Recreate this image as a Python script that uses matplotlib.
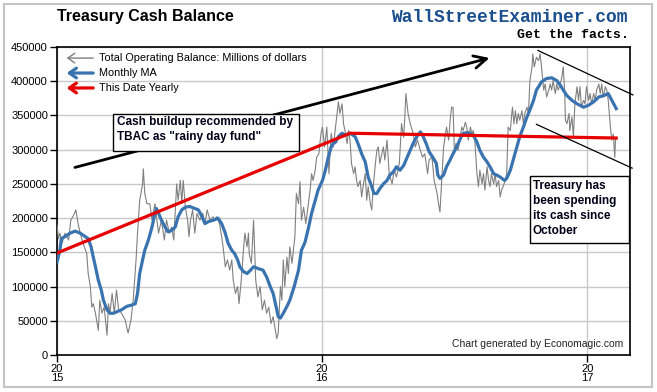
import numpy as np
import pandas as pd
import matplotlib
matplotlib.use('Agg')
import matplotlib.pyplot as plt
from matplotlib.patches import Rectangle

plt.rcParams['font.family'] = ['Liberation Sans', 'DejaVu Sans']

# days since 2015-01-01, values in thousands of millions of dollars
start = pd.Timestamp('2015-01-01')

bal_day = [0, 2, 4, 7, 11, 16, 19, 22, 26, 29, 32, 36, 41, 43, 46, 48, 50, 53, 57, 59,
           62, 65, 69, 71, 73, 76, 79, 82, 85, 89, 94, 98, 102, 105, 109, 111, 114, 118, 119, 121,
           124, 128, 131, 135, 140, 144, 148, 151, 155, 158, 161, 165, 167, 170, 172, 174, 177, 180, 182, 184,
           187, 190, 193, 197, 201, 204, 207, 211, 215, 218, 220, 224, 227, 229, 232, 235, 238, 241, 243, 246,
           249, 251, 254, 257, 259, 262, 264, 265, 268, 271, 274, 277, 280, 283, 286, 289, 292, 295, 298, 303,
           305, 308, 310, 312, 314, 317, 319, 321, 324, 328, 330, 333, 335, 337, 340, 343, 346, 349, 351, 353,
           356, 358, 361, 364, 366, 369, 372, 375, 378, 381, 384, 388, 390, 393, 395, 397, 400, 402, 404, 406,
           409, 411, 413, 415, 418, 420, 422, 425, 427, 429, 432, 434, 436, 439, 441, 443, 445, 448, 450, 452,
           455, 458, 462, 465, 468, 472, 475, 478, 480, 481, 484, 487, 491, 494, 497, 501, 504, 507, 511, 513,
           517, 520, 524, 526, 528, 530, 533, 535, 537, 540, 542, 544, 546, 548, 550, 553, 556, 558, 560, 563,
           565, 567, 570, 572, 574, 576, 579, 581, 583, 586, 588, 590, 593, 595, 597, 599, 602, 604, 606, 609,
           611, 613, 615, 618, 620, 622, 625, 627, 628, 630, 632, 634, 636, 638, 641, 643, 645, 648, 650, 652,
           655, 656, 658, 661, 664, 666, 668, 671, 673, 675, 678, 680, 682, 684, 687, 689, 691, 694, 696, 698,
           700, 701, 703, 706, 707, 710, 712, 714, 717, 719, 721, 723, 726, 728, 730, 733, 735, 737, 740, 742,
           744, 747, 749, 751, 753, 756, 758, 760, 763, 765, 767, 769, 770, 771]
bal_k = [190, 170, 178, 163, 178, 168, 197, 202, 212, 192, 178, 163, 148, 119, 100, 70, 75, 61, 36, 80,
         61, 70, 29, 75, 61, 90, 61, 95, 66, 61, 51, 32, 51, 80, 139, 178, 226, 250, 272, 236,
         221, 221, 197, 221, 178, 197, 168, 197, 178, 187, 168, 250, 226, 255, 221, 255, 216, 197, 173, 197,
         212, 178, 207, 197, 207, 192, 212, 197, 202, 197, 202, 192, 173, 158, 129, 139, 124, 139, 109, 90,
         100, 75, 109, 153, 178, 158, 178, 148, 134, 197, 109, 85, 100, 66, 80, 61, 70, 46, 56, 24,
         32, 100, 80, 139, 100, 143, 119, 158, 134, 173, 236, 221, 253, 197, 216, 192, 216, 241, 265, 255,
         270, 289, 294, 324, 333, 304, 333, 265, 324, 304, 333, 370, 353, 367, 338, 328, 309, 328, 314, 280,
         265, 275, 255, 246, 255, 231, 246, 265, 226, 246, 221, 212, 246, 280, 299, 304, 280, 294, 304, 285,
         314, 265, 250, 270, 260, 280, 338, 318, 358, 382, 353, 338, 324, 304, 314, 299, 289, 294, 265, 285,
         289, 255, 236, 221, 209, 246, 304, 318, 333, 314, 343, 362, 362, 294, 309, 299, 318, 333, 328, 340,
         333, 314, 333, 323, 328, 314, 265, 246, 270, 250, 265, 241, 275, 255, 246, 265, 250, 265, 246, 255,
         231, 241, 246, 255, 265, 333, 328, 353, 362, 338, 357, 338, 353, 343, 357, 338, 353, 362, 353, 401,
         421, 440, 421, 435, 430, 440, 421, 387, 396, 377, 387, 396, 387, 401, 382, 396, 387, 396, 406, 421,
         382, 343, 338, 353, 328, 348, 318, 367, 392, 372, 392, 362, 372, 367, 392, 372, 382, 367, 382, 372,
         387, 396, 382, 396, 377, 392, 387, 372, 333, 314, 323, 289, 314, 318]

ma_day = [0, 4, 6, 11, 18, 25, 32, 39, 43, 47, 50, 53, 57, 61, 64, 69, 73, 78, 82, 89,
          96, 103, 108, 111, 114, 118, 121, 126, 131, 134, 137, 140, 144, 149, 153, 158, 163, 167, 172, 177,
          183, 190, 195, 200, 204, 209, 216, 222, 227, 232, 236, 241, 245, 249, 252, 257, 262, 266, 271, 278,
          284, 289, 294, 298, 302, 305, 308, 312, 317, 321, 327, 333, 337, 342, 347, 351, 356, 360, 366, 370,
          374, 378, 381, 384, 388, 393, 397, 404, 411, 415, 420, 425, 429, 434, 437, 441, 445, 450, 455, 459,
          464, 468, 473, 478, 482, 487, 491, 496, 501, 504, 509, 513, 518, 523, 525, 528, 533, 537, 542, 546,
          551, 556, 560, 567, 574, 579, 583, 588, 593, 597, 602, 606, 611, 617, 620, 625, 629, 634, 638, 643,
          648, 652, 657, 661, 668, 675, 682, 689, 694, 698, 703, 710, 717, 726, 733, 740, 747, 754, 760, 765,
          771]
ma_k = [136, 153, 170, 173, 178, 181, 178, 173, 170, 158, 143, 129, 109, 95, 80, 66, 61, 61, 63, 66,
        71, 73, 75, 90, 119, 139, 153, 168, 187, 202, 214, 207, 197, 187, 180, 182, 187, 202, 212, 216,
        217, 214, 212, 202, 192, 195, 197, 200, 192, 178, 163, 153, 148, 139, 129, 122, 119, 123, 129, 126,
        124, 114, 100, 90, 71, 56, 54, 61, 71, 80, 100, 124, 153, 165, 187, 207, 226, 241, 255, 270,
        289, 304, 309, 311, 319, 324, 321, 324, 319, 309, 294, 282, 260, 246, 236, 236, 243, 250, 255, 263,
        268, 275, 270, 277, 287, 299, 309, 319, 326, 321, 309, 297, 289, 280, 263, 258, 263, 275, 285, 294,
        304, 316, 324, 325, 321, 311, 299, 289, 282, 275, 265, 263, 260, 255, 258, 270, 285, 304, 319, 333,
        348, 358, 372, 387, 399, 404, 405, 401, 394, 387, 379, 372, 367, 362, 365, 370, 377, 379, 382, 372,
        360]

yearly_day = [0, 404, 771]
yearly_k = [149, 324, 317]

yticks = list(range(0, 450001, 50000))
xtick_dates = ['2015-01-01', '2016-01-01', '2017-01-01']
xtick_labels = ['20\n15', '20\n16', '20\n17']


def to_dates(days):
    return start + pd.to_timedelta(days, unit='D')


fig = plt.figure(figsize=(6.57, 3.92), dpi=100)
ax = fig.add_axes([57/657, 1 - 355/392, 573/657, 308/392])

ax.plot(to_dates(bal_day), np.array(bal_k) * 1000, color='#808080', lw=0.8, zorder=3)
ax.plot(to_dates(ma_day), np.array(ma_k) * 1000, color='#3a74b0', lw=2.3, zorder=4)
ax.plot(to_dates(yearly_day), np.array(yearly_k) * 1000, color='#e60000', lw=2.3, zorder=5)

ax.set_ylim(0, 450000)
ax.set_xlim(start, to_dates([790])[0])
ax.set_yticks(yticks)
ax.set_yticklabels([str(v) for v in yticks], fontsize=8)
ax.set_xticks(pd.to_datetime(xtick_dates))
ax.set_xticklabels(xtick_labels, fontsize=8, linespacing=0.85)
ax.tick_params(direction='out', length=5, width=1, color='black', pad=1.5)
ax.grid(True, color='#c8c8c8', lw=1)
ax.set_axisbelow(True)
for s in ax.spines.values():
    s.set_linewidth(1.2)
    s.set_color('black')

# big trend arrow
ax.annotate('', xy=(to_dates([600])[0], 435000), xytext=(to_dates([21])[0], 273000),
            arrowprops=dict(arrowstyle='->,head_length=0.9,head_width=0.45', lw=2, color='black'),
            zorder=6)
# channel lines
ax.plot(to_dates([663, 794]), [445000, 380000], color='black', lw=0.9, clip_on=False, zorder=6)
ax.plot(to_dates([661, 793]), [337000, 273000], color='black', lw=0.9, clip_on=False, zorder=6)

# comment boxes
ax.add_patch(Rectangle((0.0977, 0.6623), 0.3246, 0.1202, transform=ax.transAxes,
                       fc='white', ec='black', lw=1, zorder=7))
ax.text(0.1047, 0.7327, 'Cash buildup recommended by\nTBAC as "rainy day fund"', transform=ax.transAxes,
        fontsize=8.5, fontweight='bold', color='#000018', va='center', ha='left', linespacing=1.3,
        zorder=8)
ax.add_patch(Rectangle((0.8255, 0.3636), 0.1728, 0.2176, transform=ax.transAxes,
                       fc='white', ec='black', lw=1, zorder=7))
ax.text(0.8307, 0.4756, 'Treasury has\nbeen spending\nits cash since\nOctober', transform=ax.transAxes,
        fontsize=8.5, fontweight='bold', color='#000018', va='center', ha='left', linespacing=1.33,
        zorder=8)
ax.text(0.988, 0.035, 'Chart generated by Economagic.com', transform=ax.transAxes,
        fontsize=7.5, color='#222222', ha='right', va='center')

# legend drawn as arrows
leg = [('Total Operating Balance: Millions of dollars', '#808080', 1.0),
       ('Monthly MA', '#3a74b0', 2.3),
       ('This Date Yearly', '#e60000', 2.3)]
for i, (lab, col, w) in enumerate(leg):
    yy = 0.964 - i * 0.0485
    ax.annotate('', xy=(0.012, yy), xytext=(0.068, yy), xycoords='axes fraction',
                arrowprops=dict(arrowstyle='->,head_length=0.5,head_width=0.35', lw=w, color=col))
    ax.text(0.073, yy, lab, transform=ax.transAxes, fontsize=7.8, va='center', ha='left')

fig.text(57/657, 1 - 17/392, 'Treasury Cash Balance', fontsize=11.5, fontweight='bold', va='center')
fig.text(628/657, 1 - 17/392, 'WallStreetExaminer.com', fontsize=13, fontweight='bold',
         family='Liberation Mono', color='#1c4f8e', ha='right', va='center')
fig.text(629/657, 1 - 35/392, 'Get the facts.', fontsize=9.5, fontweight='bold',
         family='Liberation Mono', color='black', ha='right', va='center')

fig.patches.append(Rectangle((4/657, 5/392), 648/657, 383/392, transform=fig.transFigure,
                             fill=False, edgecolor='#c4c4c4', lw=1.5))

fig.savefig('out.png', dpi=100)
